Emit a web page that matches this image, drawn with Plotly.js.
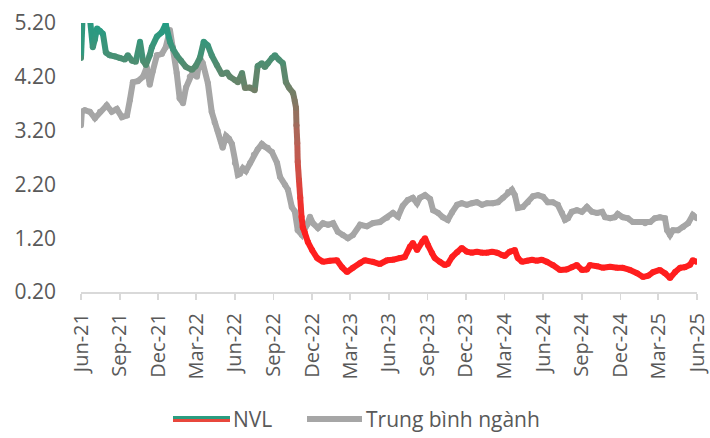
<!DOCTYPE html>
<html>
<head>
<meta charset="utf-8">
<script src="https://cdn.plot.ly/plotly-3.0.1.min.js"></script>
<style>html,body{margin:0;padding:0;background:#fff;}#chart{width:710px;height:438px;}</style>
</head>
<body>
<div id="chart"></div>
<script>
// ---- Data ----
const nvlDates = [
 '2021-06-01','2021-06-05','2021-06-12','2021-06-22','2021-06-29','2021-07-04','2021-07-09','2021-07-16','2021-07-23','2021-07-30',
 '2021-08-08','2021-08-20','2021-09-01','2021-09-13','2021-09-20','2021-09-30','2021-10-09','2021-10-19','2021-10-26','2021-11-02',
 '2021-11-11','2021-11-16','2021-11-28','2021-12-10','2021-12-19','2021-12-29','2022-01-05','2022-01-14','2022-01-24','2022-02-05',
 '2022-02-19','2022-02-28','2022-03-10','2022-03-19','2022-03-29','2022-04-07','2022-04-19','2022-05-01','2022-05-13','2022-05-20',
 '2022-06-01','2022-06-08','2022-06-18','2022-06-25','2022-07-07','2022-07-18','2022-07-25','2022-08-04','2022-08-11','2022-08-18',
 '2022-08-28','2022-09-04','2022-09-13','2022-09-23','2022-09-30','2022-10-07','2022-10-17','2022-10-21','2022-10-24','2022-10-25',
 '2022-10-27','2022-10-28','2022-10-31','2022-11-03','2022-11-06','2022-11-09','2022-11-14','2022-11-21','2022-12-01','2022-12-13',
 '2022-12-27','2023-01-12','2023-01-29','2023-02-10','2023-02-22','2023-03-08','2023-03-25','2023-04-05','2023-04-24','2023-05-11',
 '2023-05-28','2023-06-11','2023-06-27','2023-07-09','2023-07-21','2023-07-28','2023-08-07','2023-08-19','2023-08-26','2023-09-02',
 '2023-09-11','2023-09-18','2023-09-30','2023-10-12','2023-10-19','2023-10-29','2023-11-10','2023-11-21','2023-12-03','2023-12-15',
 '2023-12-27','2024-01-08','2024-01-20','2024-02-01','2024-02-13','2024-02-24','2024-03-02','2024-03-14','2024-03-26','2024-04-02',
 '2024-04-12','2024-04-24','2024-05-06','2024-05-17','2024-05-29','2024-06-10','2024-06-24','2024-07-11','2024-07-27','2024-08-08',
 '2024-08-20','2024-09-01','2024-09-13','2024-09-20','2024-10-07','2024-10-21','2024-11-07','2024-11-23','2024-12-07','2024-12-24',
 '2025-01-10','2025-01-24','2025-02-05','2025-02-17','2025-03-05','2025-03-17','2025-03-29','2025-04-10','2025-04-22','2025-05-03',
 '2025-05-15','2025-05-22','2025-06-01'
];
const nvlValues = [
 4.55,5.35,5.40,5.30,4.75,4.90,5.10,5.05,5.00,4.65,
 4.60,4.58,4.55,4.52,4.60,4.50,4.48,4.85,4.50,4.42,
 4.60,4.75,4.95,5.03,5.18,4.85,4.72,4.60,4.50,4.38,
 4.33,4.40,4.55,4.85,4.78,4.60,4.42,4.25,4.28,4.20,
 4.14,4.10,4.27,3.99,4.00,3.95,4.40,4.45,4.38,4.45,
 4.55,4.60,4.52,4.45,4.10,4.00,3.90,3.75,3.62,3.30,
 2.97,2.62,2.28,1.95,1.60,1.40,1.30,1.13,0.98,0.83,
 0.76,0.78,0.79,0.66,0.57,0.65,0.74,0.79,0.76,0.72,
 0.79,0.80,0.83,0.85,1.04,1.11,0.98,1.13,1.20,1.07,
 0.93,0.83,0.76,0.70,0.72,0.85,0.94,1.02,0.95,0.93,
 0.95,0.93,0.93,0.95,0.93,0.89,0.87,0.95,0.98,0.83,
 0.76,0.78,0.80,0.78,0.80,0.76,0.70,0.61,0.62,0.66,
 0.70,0.61,0.62,0.70,0.68,0.65,0.67,0.65,0.65,0.61,
 0.55,0.48,0.50,0.57,0.61,0.55,0.46,0.57,0.65,0.66,
 0.70,0.79,0.76
];
const avgDates = [
 '2021-06-01','2021-06-03','2021-06-10','2021-06-22','2021-07-04','2021-07-16','2021-08-01','2021-08-13','2021-08-25','2021-09-06',
 '2021-09-18','2021-09-25','2021-10-02','2021-10-14','2021-10-26','2021-11-04','2021-11-11','2021-11-18','2021-11-28','2021-12-10',
 '2021-12-19','2021-12-29','2022-01-05','2022-01-14','2022-01-21','2022-01-29','2022-02-05','2022-02-14','2022-02-21','2022-03-03',
 '2022-03-10','2022-03-17','2022-03-29','2022-04-07','2022-04-14','2022-04-21','2022-04-29','2022-05-03','2022-05-11','2022-05-18',
 '2022-05-25','2022-06-01','2022-06-08','2022-06-13','2022-06-20','2022-06-27','2022-07-07','2022-07-16','2022-07-25','2022-08-04',
 '2022-08-11','2022-08-18','2022-08-28','2022-09-09','2022-09-16','2022-09-28','2022-10-05','2022-10-14','2022-10-21','2022-10-28',
 '2022-11-07','2022-11-19','2022-11-26','2022-12-03','2022-12-15','2022-12-27','2023-01-08','2023-01-20','2023-01-31','2023-02-12',
 '2023-02-24','2023-03-08','2023-03-25','2023-04-10','2023-04-24','2023-05-11','2023-05-28','2023-06-11','2023-06-23','2023-07-04',
 '2023-07-16','2023-07-28','2023-08-07','2023-08-14','2023-08-26','2023-09-07','2023-09-14','2023-09-26','2023-10-07','2023-10-19',
 '2023-10-29','2023-11-10','2023-11-21','2023-12-03','2023-12-15','2023-12-27','2024-01-08','2024-01-20','2024-02-03','2024-02-15',
 '2024-02-27','2024-03-10','2024-03-19','2024-03-26','2024-04-02','2024-04-14','2024-04-26','2024-05-08','2024-05-20','2024-06-01',
 '2024-06-12','2024-06-24','2024-07-06','2024-07-16','2024-07-23','2024-07-30','2024-08-08','2024-08-20','2024-09-01','2024-09-13',
 '2024-09-25','2024-10-07','2024-10-19','2024-10-26','2024-11-07','2024-11-18','2024-11-25','2024-12-07','2024-12-19','2024-12-31',
 '2025-01-17','2025-01-29','2025-02-10','2025-02-21','2025-03-05','2025-03-17','2025-03-22','2025-03-29','2025-04-05','2025-04-17',
 '2025-04-29','2025-05-11','2025-05-22','2025-06-01'
];
const avgValues = [
 3.30,3.55,3.58,3.55,3.43,3.55,3.67,3.55,3.60,3.45,
 3.48,3.77,4.10,4.12,4.20,4.38,4.05,4.30,4.60,4.63,
 4.75,5.07,4.75,4.27,3.80,3.71,4.00,4.20,4.29,4.20,
 4.55,4.45,4.08,3.55,3.35,3.20,3.00,2.88,3.10,3.05,
 2.95,2.60,2.38,2.40,2.50,2.45,2.60,2.75,2.85,2.95,
 2.90,2.88,2.80,2.60,2.34,2.19,2.10,1.78,1.70,1.35,
 1.26,1.45,1.60,1.48,1.39,1.48,1.45,1.48,1.32,1.26,
 1.20,1.26,1.45,1.42,1.48,1.50,1.58,1.67,1.60,1.80,
 1.91,1.95,1.85,1.95,2.00,1.93,1.72,1.67,1.59,1.54,
 1.68,1.82,1.85,1.82,1.85,1.87,1.82,1.85,1.85,1.87,
 1.95,2.06,2.10,2.00,1.76,1.78,1.87,1.98,2.00,1.97,
 1.87,1.87,1.82,1.67,1.54,1.57,1.69,1.72,1.69,1.78,
 1.69,1.67,1.69,1.59,1.57,1.59,1.65,1.59,1.57,1.50,
 1.50,1.48,1.50,1.57,1.59,1.57,1.35,1.26,1.35,1.35,
 1.41,1.48,1.63,1.57
];
const seriesNames = ['NVL', 'Trung bình ngành'];
const tickDates = ['2021-06-01','2021-09-01','2021-12-01','2022-03-01','2022-06-01','2022-09-01','2022-12-01','2023-03-01','2023-06-01','2023-09-01','2023-12-01','2024-03-01','2024-06-01','2024-09-01','2024-12-01','2025-03-01','2025-06-01'];
const tickLabels = ['Jun-21','Sep-21','Dec-21','Mar-22','Jun-22','Sep-22','Dec-22','Mar-23','Jun-23','Sep-23','Dec-23','Mar-24','Jun-24','Sep-24','Dec-24','Mar-25','Jun-25'];
const yTicks = [0.2, 1.2, 2.2, 3.2, 4.2, 5.2];
const yTickLabels = ['0.20','1.20','2.20','3.20','4.20','5.20'];

// ---- Styling ----
const FONT = 'Open Sans, "Noto Sans", sans-serif';
const TEXT = '#595959';
const GRAY = '#a6a6a6';
const LW = 6;
// value -> colour gradient (green high, red low), like the reference's gradient line
const stops = [[1.3,[255,30,30]],[1.7,[244,44,42]],[2.3,[214,74,66]],[3.0,[182,98,86]],[3.6,[140,116,97]],[4.1,[102,132,106]],[4.5,[76,142,114]],[5.2,[34,157,133]]];
function colorFor(v){
  if (v <= stops[0][0]) return 'rgb(' + stops[0][1].join(',') + ')';
  for (let i = 1; i < stops.length; i++){
    if (v <= stops[i][0]){
      const t = (v - stops[i-1][0]) / (stops[i][0] - stops[i-1][0]);
      const a = stops[i-1][1], b = stops[i][1];
      return 'rgb(' + a.map((c,k)=>Math.round(c + (b[k]-c)*t)).join(',') + ')';
    }
  }
  return 'rgb(' + stops[stops.length-1][1].join(',') + ')';
}

const traces = [];
// industry average (gray)
traces.push({
  x: avgDates, y: avgValues, name: seriesNames[1], type: 'scatter', mode: 'lines+markers',
  line: {color: GRAY, width: LW}, marker: {color: GRAY, size: LW}, showlegend: false, hoverinfo: 'skip'
});
// NVL as coloured segments
for (let i = 0; i < nvlDates.length - 1; i++){
  const c = colorFor((nvlValues[i] + nvlValues[i+1]) / 2);
  traces.push({
    x: [nvlDates[i], nvlDates[i+1]], y: [nvlValues[i], nvlValues[i+1]], name: seriesNames[0],
    type: 'scatter', mode: 'lines', line: {color: c, width: LW}, showlegend: false, hoverinfo: 'skip'
  });
}
traces.push({
  x: nvlDates, y: nvlValues, name: seriesNames[0], type: 'scatter', mode: 'markers',
  marker: {color: nvlValues.map(colorFor), size: LW}, showlegend: false, hoverinfo: 'skip'
});

// manual legend (line samples + labels) in paper coordinates
const plotW = 616, plotH = 269;
const px = v => (v - 81) / plotW;
const py = v => (292 - v) / plotH;
const legY = 419;
const shapes = [
  {type:'line', xref:'paper', yref:'paper', x0:px(173), x1:px(230), y0:py(legY-1.5), y1:py(legY-1.5), line:{color:'#2a9d80', width:3}},
  {type:'line', xref:'paper', yref:'paper', x0:px(173), x1:px(230), y0:py(legY+1.5), y1:py(legY+1.5), line:{color:'#e8473c', width:3}},
  {type:'line', xref:'paper', yref:'paper', x0:px(307), x1:px(362), y0:py(legY), y1:py(legY), line:{color:GRAY, width:6}}
];
const annotations = [
  {xref:'paper', yref:'paper', x:px(231), y:py(legY), text:seriesNames[0], showarrow:false, xanchor:'left', yanchor:'middle', font:{family:FONT, size:21, color:TEXT}},
  {xref:'paper', yref:'paper', x:px(364), y:py(legY), text:seriesNames[1], showarrow:false, xanchor:'left', yanchor:'middle', font:{family:FONT, size:21, color:TEXT}}
];

const layout = {
  width: 710, height: 438,
  margin: {l: 81, r: 13, t: 23, b: 146},
  paper_bgcolor: '#ffffff', plot_bgcolor: '#ffffff',
  showlegend: false,
  font: {family: FONT, color: TEXT},
  xaxis: {
    type: 'date', range: ['2021-06-01', '2025-06-01'],
    tickmode: 'array', tickvals: tickDates, ticktext: tickLabels, tickangle: -90,
    ticks: 'outside', ticklen: 6, tickwidth: 1.5, tickcolor: '#d9d9d9',
    showline: true, linecolor: '#d9d9d9', linewidth: 2,
    showgrid: false, zeroline: false,
    tickfont: {family: FONT, size: 20, color: TEXT}, ticklabelstandoff: 5
  },
  yaxis: {
    range: [0.2, 5.2], tickmode: 'array', tickvals: yTicks, ticktext: yTickLabels,
    showgrid: false, zeroline: false, showline: false, ticks: '',
    tickfont: {family: FONT, size: 21, color: TEXT}, ticklabelstandoff: 24
  },
  shapes: shapes, annotations: annotations
};

Plotly.newPlot('chart', traces, layout, {displayModeBar: false, staticPlot: true});
</script>
</body>
</html>
